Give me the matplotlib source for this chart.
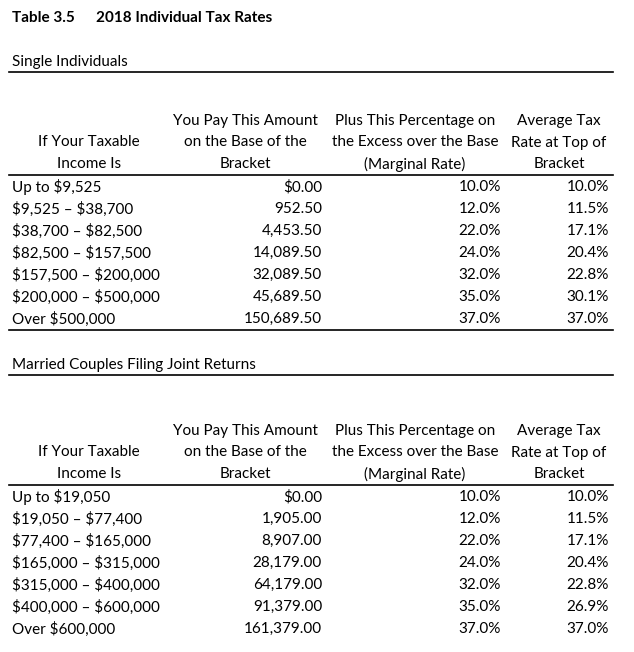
import matplotlib
matplotlib.use("Agg")
import matplotlib.pyplot as plt

plt.rcParams["font.family"] = ["Lato", "DejaVu Sans"]
plt.rcParams["text.parse_math"] = False

# Data
single_brackets = ["Up to $9,525", "$9,525 – $38,700", "$38,700 – $82,500",
                   "$82,500 – $157,500", "$157,500 – $200,000",
                   "$200,000 – $500,000", "Over $500,000"]
single_base = [0.00, 952.50, 4453.50, 14089.50, 32089.50, 45689.50, 150689.50]
single_marginal = [10.0, 12.0, 22.0, 24.0, 32.0, 35.0, 37.0]
single_average = [10.0, 11.5, 17.1, 20.4, 22.8, 30.1, 37.0]

married_brackets = ["Up to $19,050", "$19,050 – $77,400", "$77,400 – $165,000",
                    "$165,000 – $315,000", "$315,000 – $400,000",
                    "$400,000 – $600,000", "Over $600,000"]
married_base = [0.00, 1905.00, 8907.00, 28179.00, 64179.00, 91379.00, 161379.00]
married_marginal = [10.0, 12.0, 22.0, 24.0, 32.0, 35.0, 37.0]
married_average = [10.0, 11.5, 17.1, 20.4, 22.8, 26.9, 37.0]

header_lines = [
    ["", "If Your Taxable", "Income Is"],
    ["You Pay This Amount", "on the Base of the", "Bracket"],
    ["Plus This Percentage on", "the Excess over the Base", "(Marginal Rate)"],
    ["Average Tax", "Rate at Top of", "Bracket"],
]

FS = 11
X_LEFT, X_RIGHT = 9, 613
COL_CENTERS = [89, 245, 415, 559]
COL_RIGHTS = [None, 322, 501, 609]
ROW_STEP = 22


def fmt_base(v, first):
    s = f"{v:,.2f}"
    return "$" + s if first else s


def draw_section(ax, title, title_y, header_y, brackets, base, marginal, average,
                 bottom_line):
    ax.text(12, title_y, title, fontsize=FS, va="center", ha="left")
    ax.plot([X_LEFT, X_RIGHT], [title_y + 10, title_y + 10], color="black", lw=1.2)

    for col, lines in enumerate(header_lines):
        for i, line in enumerate(lines):
            ax.text(COL_CENTERS[col], header_y + i * 21.5, line, fontsize=FS,
                    ha="center", va="center")
    line_y = header_y + 54
    ax.plot([X_LEFT, X_RIGHT], [line_y, line_y], color="black", lw=1.2)

    row0 = line_y + 12
    for i in range(len(brackets)):
        y = row0 + i * ROW_STEP
        ax.text(12, y, brackets[i], fontsize=FS, ha="left", va="center")
        ax.text(COL_RIGHTS[1], y, fmt_base(base[i], i == 0), fontsize=FS,
                ha="right", va="center")
        ax.text(COL_RIGHTS[2], y, f"{marginal[i]:.1f}%", fontsize=FS,
                ha="right", va="center")
        ax.text(COL_RIGHTS[3], y, f"{average[i]:.1f}%", fontsize=FS,
                ha="right", va="center")
    if bottom_line:
        by = row0 + (len(brackets) - 1) * ROW_STEP + 11
        ax.plot([X_LEFT, X_RIGHT], [by, by], color="black", lw=1.2)


fig = plt.figure(figsize=(6.34, 6.52), dpi=100)
ax = fig.add_axes([0, 0, 1, 1])
ax.set_xlim(0, 634)
ax.set_ylim(652, 0)
ax.axis("off")

ax.text(12, 18, "Table 3.5", fontsize=FS, fontweight="bold", ha="left", va="center")
ax.text(96, 18, "2018 Individual Tax Rates", fontsize=FS, fontweight="bold",
        ha="left", va="center")

draw_section(ax, "Single Individuals", 62, 121, single_brackets, single_base,
             single_marginal, single_average, True)
draw_section(ax, "Married Couples Filing Joint Returns", 365, 431, married_brackets,
             married_base, married_marginal, married_average, False)

plt.savefig("out.png", dpi=100)
plt.close()
